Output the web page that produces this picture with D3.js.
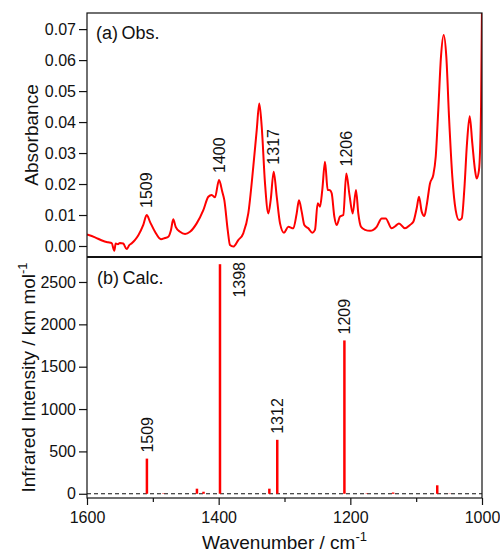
<!DOCTYPE html>
<html>
<head>
<meta charset="utf-8">
<script src="https://cdn.jsdelivr.net/npm/d3@7"></script>
<style>
  body { margin: 0; background: #fff; }
  text { font-family: "Liberation Sans", Arial, sans-serif; fill: #111; }
</style>
</head>
<body>
<div id="chart"></div>
<script>
var obsWavenumber = [1600, 1587.8, 1575.2, 1568, 1562.5, 1558.5, 1556.4, 1553, 1550, 1545, 1539.7, 1536, 1532, 1527, 1522,
    1514.5, 1509.3, 1504.3, 1496.7, 1487.6, 1481.5, 1476.5, 1472.4, 1469, 1465.3, 1458.7, 1451.1, 1443.5, 1433.4,
    1423.3, 1415.7, 1410.6, 1405.6, 1399.5, 1394.5, 1391.4, 1386.3, 1382.8, 1377.8, 1370.2, 1362.6, 1355, 1347.4,
    1342.2, 1338.3, 1334.6, 1329.6, 1324.6, 1321, 1316.4, 1311.8, 1306.8, 1300.8, 1294.2, 1286.6, 1281.5, 1278,
    1273.9, 1269.9, 1263.8, 1257.8, 1253.7, 1249.6, 1246.1, 1242.6, 1238.5, 1234.4, 1230.9, 1228.3, 1224.3, 1220.7,
    1215.7, 1210.7, 1206.1, 1201.3, 1196.4, 1191.4, 1187.9, 1183.8, 1177.7, 1170.1, 1160, 1152.3, 1146.3, 1137.2,
    1131.1, 1126.1, 1117, 1109.4, 1104.3, 1099.2, 1095.7, 1091.6, 1087.6, 1084, 1079, 1074, 1070.3, 1066.4, 1062.3,
    1058.2, 1054.2, 1050.1, 1045.1, 1040, 1034.9, 1030.8, 1026.9, 1022.8, 1018.7, 1014.7, 1010.6, 1008.1, 1004.6,
    1001.5, 1000]
var obsAbsorbance = [0.0037, 0.0028, 0.0016, 0.0012, 0.0009, -0.0015, 0.0008, 0.0006, 0.0010, 0.0008, -0.0010, 0.0002, 0.0009, 0.0020, 0.0035,
    0.0068, 0.0100, 0.0078, 0.0046, 0.0022, 0.0026, 0.0030, 0.0052, 0.0086, 0.0062, 0.0046, 0.0039, 0.0046, 0.0073,
    0.0116, 0.0159, 0.0165, 0.0157, 0.0213, 0.0175, 0.0148, 0.0052, 0.0003, -0.0002, 0.0019, 0.0041, 0.0105, 0.0256,
    0.0374, 0.0460, 0.0385, 0.0202, 0.0105, 0.0148, 0.0240, 0.0159, 0.0073, 0.0043, 0.0062, 0.0057, 0.0105, 0.0148,
    0.0111, 0.0068, 0.0057, 0.0043, 0.0052, 0.0138, 0.0127, 0.0181, 0.0272, 0.0181, 0.0180, 0.0170, 0.0095, 0.0068,
    0.0095, 0.0100, 0.0234, 0.0165, 0.0105, 0.0181, 0.0105, 0.0062, 0.0052, 0.0049, 0.0062, 0.0089, 0.0089, 0.0057,
    0.0065, 0.0073, 0.0057, 0.0068, 0.0078, 0.0122, 0.0159, 0.0111, 0.0097, 0.0132, 0.0202, 0.0229, 0.0288, 0.0439, 0.0611,
    0.0681, 0.0611, 0.0417, 0.0224, 0.0116, 0.0084, 0.0089, 0.0181, 0.0331, 0.0419, 0.0331, 0.0245, 0.0218, 0.0245,
    0.0439, 0.0780]
var obsPeakLabels = ["1509", "1400", "1317", "1206"]
var obsPeakWavenumber = [1509.3, 1399.5, 1316.4, 1206.1]
var obsPeakAbsorbance = [0.0100, 0.0213, 0.0240, 0.0234]

// calculated stick spectrum
var calcWavenumber = [1509, 1484, 1433, 1423, 1398, 1323, 1311, 1209, 1175, 1135, 1068, 1049]
var calcIntensity = [415, 5, 60, 24, 2710, 60, 637, 1810, 5, 15, 100, 3]
var calcPeakLabels = ["1509", "1398", "1312", "1209"]
var calcPeakWavenumber = [1509, 1398, 1311, 1209]
var calcPeakIntensity = [415, 2710, 637, 1810]

var xMajorTicks = [1600, 1400, 1200, 1000]
var xMinorTicks = [1500, 1300, 1100]
var obsTicks = [0, 0.01, 0.02, 0.03, 0.04, 0.05, 0.06, 0.07]
var calcTicks = [0, 500, 1000, 1500, 2000, 2500]

var svg = d3.select("#chart")
    .append("svg")
    .attr("width", 500)
    .attr("height", 552)

var pLeft = 87, pRight = 482, pTop = 13, pMid = 257, pBottom = 498

var x = d3.scaleLinear().domain([1600, 1000]).range([pLeft, pRight])
var yTop = d3.scaleLinear().domain([-0.00355, 0.0752]).range([pMid, pTop])
var yBot = d3.scaleLinear().domain([-50, 2795]).range([pBottom, pMid])

svg.append("clipPath").attr("id", "clipTop")
    .append("rect")
    .attr("x", pLeft).attr("y", pTop)
    .attr("width", pRight - pLeft).attr("height", pMid - pTop)

// top panel curve
var obsPoints = obsWavenumber.map(function (w, i) { return [w, obsAbsorbance[i]] })
var line = d3.line()
    .x(function (d) { return x(d[0]) })
    .y(function (d) { return yTop(d[1]) })
    .curve(d3.curveMonotoneX)

svg.append("path")
    .datum(obsPoints)
    .attr("d", line)
    .attr("clip-path", "url(#clipTop)")
    .style("fill", "none")
    .style("stroke", "#ff0000")
    .style("stroke-width", 2)
    .style("stroke-linejoin", "round")

// bottom panel: zero line and sticks
svg.append("line")
    .attr("x1", pLeft).attr("x2", pRight)
    .attr("y1", yBot(0)).attr("y2", yBot(0))
    .style("stroke", "#111")
    .style("stroke-width", 1)
    .style("stroke-dasharray", "4,3")

svg.append("g").selectAll("line")
    .data(calcWavenumber)
    .enter()
    .append("line")
    .attr("x1", function (d) { return x(d) })
    .attr("x2", function (d) { return x(d) })
    .attr("y1", yBot(0))
    .attr("y2", function (d, i) { return yBot(calcIntensity[i]) })
    .style("stroke", "#ff0000")
    .style("stroke-width", 2.5)

// peak labels
svg.append("g").selectAll("text")
    .data(obsPeakLabels)
    .enter()
    .append("text")
    .attr("transform", function (d, i) {
        return "translate(" + x(obsPeakWavenumber[i]) + "," + (yTop(obsPeakAbsorbance[i]) - 7) + ") rotate(-90)"
    })
    .attr("dy", "0.35em")
    .style("font-size", "16px")
    .text(function (d) { return d })

svg.append("g").selectAll("text")
    .data(calcPeakLabels)
    .enter()
    .append("text")
    .attr("transform", function (d, i) {
        var px = x(calcPeakWavenumber[i]), py = yBot(calcPeakIntensity[i])
        // too tall to fit above the stick: put it beside the top
        if (py - 45 < pMid) return "translate(" + (px + 19) + "," + (pMid + 5) + ") rotate(-90)"
        return "translate(" + px + "," + (py - 6) + ") rotate(-90)"
    })
    .attr("text-anchor", function (d, i) { return yBot(calcPeakIntensity[i]) - 45 < pMid ? "end" : "start" })
    .attr("dy", "0.35em")
    .style("font-size", "16px")
    .text(function (d) { return d })

// axes
svg.append("g")
    .attr("transform", "translate(" + pLeft + ",0)")
    .call(d3.axisLeft(yTop).tickValues(obsTicks).tickFormat(d3.format(".2f")).tickSize(8).tickPadding(3).tickSizeOuter(0))
svg.append("g")
    .attr("transform", "translate(" + pLeft + ",0)")
    .call(d3.axisLeft(yBot).tickValues(calcTicks).tickFormat(d3.format("d")).tickSize(8).tickPadding(3).tickSizeOuter(0))
svg.append("g")
    .attr("transform", "translate(0," + pBottom + ")")
    .call(d3.axisBottom(x).tickValues(xMajorTicks).tickFormat(d3.format("d")).tickSize(7).tickPadding(7).tickSizeOuter(0))
svg.append("g")
    .attr("transform", "translate(0," + pBottom + ")")
    .call(d3.axisBottom(x).tickValues(xMinorTicks).tickFormat("").tickSize(4).tickSizeOuter(0))

svg.selectAll(".domain").remove()
svg.selectAll(".tick line").style("stroke", "#111").style("stroke-width", 1.2)
svg.selectAll(".tick text")
    .style("font-family", "'Liberation Sans', Arial, sans-serif")
    .style("font-size", "16px")
    .style("fill", "#111")

// frame
var frame = svg.append("g").style("stroke", "#111").style("fill", "none")
frame.append("rect")
    .attr("x", pLeft).attr("y", pTop)
    .attr("width", pRight - pLeft).attr("height", pBottom - pTop)
    .style("stroke-width", 1.2)
frame.append("line")
    .attr("x1", pLeft).attr("x2", pRight)
    .attr("y1", pMid).attr("y2", pMid)
    .style("stroke-width", 1.8)

// panel labels
svg.append("text")
    .attr("x", 96).attr("y", 39)
    .style("font-size", "18px")
    .text("(a)\u2009Obs.")
svg.append("text")
    .attr("x", 97).attr("y", 284)
    .style("font-size", "18px")
    .text("(b)\u2009Calc.")

// axis titles
svg.append("text")
    .attr("transform", "translate(38," + ((pTop + pMid) / 2) + ") rotate(-90)")
    .attr("text-anchor", "middle")
    .style("font-size", "19px")
    .text("Absorbance")

var yt = svg.append("text")
    .attr("transform", "translate(35," + ((pMid + pBottom) / 2) + ") rotate(-90)")
    .attr("text-anchor", "middle")
    .style("font-size", "19px")
yt.append("tspan").text("Infrared Intensity / km mol")
yt.append("tspan").attr("dy", "-0.65em").style("font-size", "13px").text("-1")

var xt = svg.append("text")
    .attr("x", (pLeft + pRight) / 2).attr("y", 549)
    .attr("text-anchor", "middle")
    .style("font-size", "19px")
xt.append("tspan").text("Wavenumber / cm")
xt.append("tspan").attr("dy", "-0.65em").style("font-size", "13px").text("-1")
</script>
</body>
</html>
